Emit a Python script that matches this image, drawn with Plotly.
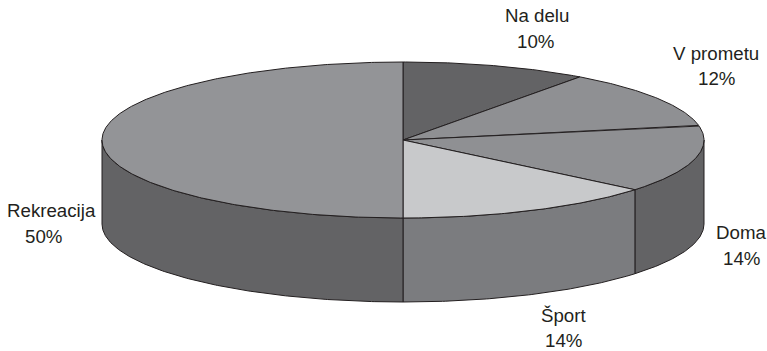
import numpy as np
import plotly.graph_objects as go

# Share of injuries by place of occurrence, clockwise from twelve o'clock
categories = ["Na delu", "V prometu", "Doma", "Šport", "Rekreacija"]
shares = [10, 12, 14, 14, 50]
top_colors = ["#636365", "#8f9093", "#8f9093", "#c8c9cb", "#939497"]
side_colors = ["#636365", "#636365", "#636365", "#7b7c7f", "#636365"]

# Label placement in page pixels: name line centre, then percentage line centre
NAME_POS = [(537, 15), (716, 53), (741, 232), (563, 315), (51, 210)]
SHARE_POS = [(535, 41), (716, 78), (741, 258), (563, 340), (43, 236)]

# Disc geometry on an axis spanning the page in pixels
CX, CY, RX, RY, DEPTH = 403, 140, 301, 78, 84
INK = "#231f20"
LABEL_FONT = dict(family="Liberation Sans, Arial, sans-serif", size=18.7, color=INK)


def rim(a0, a1, drop=0.0):
    """Points along the elliptical rim between two angles (degrees clockwise from top)."""
    n = max(int(abs(a1 - a0)) * 2, 2) + 1
    t = np.radians(np.linspace(a0, a1, n))
    return CX + RX * np.sin(t), CY - RY * np.cos(t) + drop


edges = np.concatenate([[0], np.cumsum(shares)]) * 3.6
fig = go.Figure()

# Outer wall: only the part of each slice facing the viewer (90 to 270 degrees)
for i in range(len(shares)):
    a0, a1 = max(edges[i], 90), min(edges[i + 1], 270)
    if a1 <= a0:
        continue
    x_up, y_up = rim(a0, a1)
    x_dn, y_dn = rim(a1, a0, DEPTH)
    fig.add_trace(go.Scatter(
        x=np.concatenate([x_up, x_dn, x_up[:1]]),
        y=np.concatenate([y_up, y_dn, y_up[:1]]),
        mode="lines", fill="toself", fillcolor=side_colors[i],
        line=dict(color=INK, width=1), hoverinfo="skip", showlegend=False,
    ))

# Top face
for i, name in enumerate(categories):
    xs, ys = rim(edges[i], edges[i + 1])
    fig.add_trace(go.Scatter(
        x=np.concatenate([[CX], xs, [CX]]),
        y=np.concatenate([[CY], ys, [CY]]),
        mode="lines", fill="toself", fillcolor=top_colors[i],
        line=dict(color=INK, width=1), name=name, showlegend=False,
    ))

# Category and percentage labels
for name, share, (nx, ny), (sx, sy) in zip(categories, shares, NAME_POS, SHARE_POS):
    fig.add_annotation(x=nx, y=ny, text=name, showarrow=False, font=LABEL_FONT)
    fig.add_annotation(x=sx, y=sy, text=f"{share}%", showarrow=False, font=LABEL_FONT)

fig.update_layout(
    width=767, height=351, margin=dict(l=0, r=0, t=0, b=0),
    paper_bgcolor="white", plot_bgcolor="white",
    xaxis=dict(range=[0, 767], visible=False, fixedrange=True),
    yaxis=dict(range=[351, 0], visible=False, fixedrange=True),
)
fig.write_html("out.html", config={"displayModeBar": False})
